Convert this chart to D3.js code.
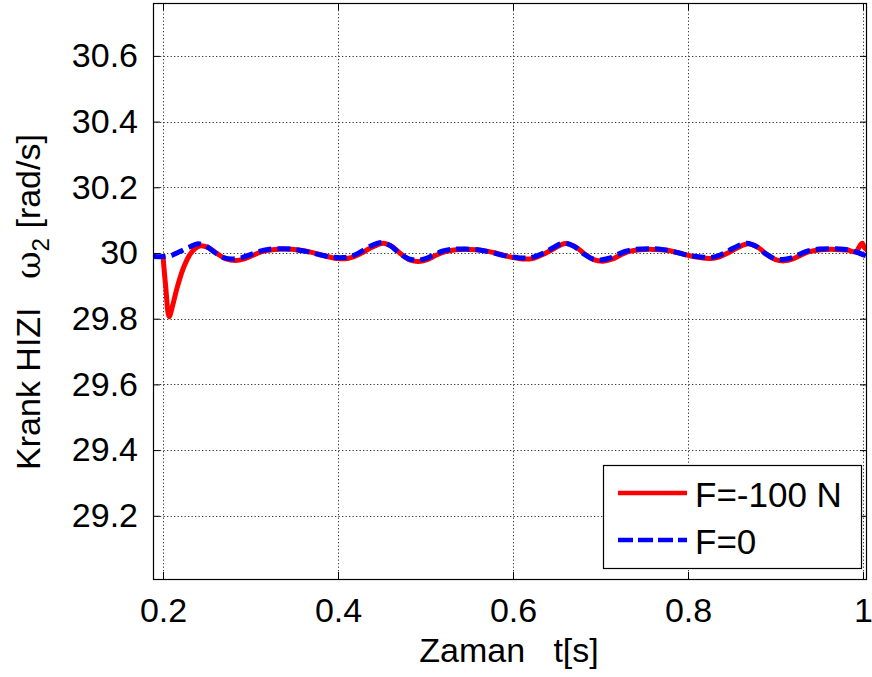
<!DOCTYPE html>
<html>
<head>
<meta charset="utf-8">
<script src="https://cdn.jsdelivr.net/npm/d3@7"></script>
<style>
  html, body { margin: 0; padding: 0; background: #fff; }
  svg { display: block; font-family: "Liberation Sans", Arial, sans-serif; }
</style>
</head>
<body>
<svg id="chart" width="872" height="677"></svg>
<script>
// Crank angular velocity, force applied (F=-100 N) vs. no force (F=0)
const timeF100 = [0.200,0.203,0.207,0.211,0.216,0.223,0.230,0.236,0.243,0.252,0.262,0.272,0.283,0.293,0.303,0.313,0.325,0.340,0.355,0.370,0.385,0.400,0.412,0.425,0.437,0.452,0.462,0.472,0.483,0.492,0.502,0.512,0.523,0.535,0.550,0.565,0.580,0.595,0.610,0.622,0.637,0.647,0.660,0.672,0.682,0.692,0.703,0.713,0.723,0.733,0.745,0.760,0.775,0.790,0.805,0.820,0.832,0.845,0.856,0.869,0.880,0.890,0.900,0.910,0.920,0.930,0.940,0.952,0.967,0.982,0.992,0.996,0.999,1.002,1.005];
const omegaF100 = [29.990,29.900,29.806,29.840,29.893,29.952,29.992,30.012,30.022,30.016,29.998,29.982,29.977,29.982,29.993,30.004,30.010,30.012,30.009,30.002,29.991,29.983,29.984,29.997,30.015,30.030,30.019,29.997,29.978,29.974,29.980,29.993,30.004,30.010,30.011,30.008,30.000,29.989,29.982,29.983,29.999,30.014,30.029,30.018,29.997,29.980,29.975,29.981,29.994,30.005,30.010,30.011,30.009,30.000,29.990,29.984,29.985,29.999,30.015,30.028,30.017,29.996,29.980,29.976,29.982,29.995,30.005,30.010,30.011,30.009,30.004,30.020,30.030,30.015,30.008];

const timeF0 = [0.188,0.200,0.210,0.220,0.230,0.240,0.250,0.260,0.270,0.280,0.290,0.300,0.310,0.320,0.335,0.350,0.365,0.380,0.395,0.405,0.415,0.425,0.435,0.450,0.460,0.470,0.480,0.490,0.500,0.510,0.520,0.530,0.545,0.560,0.575,0.590,0.605,0.620,0.635,0.645,0.658,0.670,0.680,0.690,0.700,0.710,0.720,0.730,0.740,0.755,0.770,0.785,0.800,0.815,0.828,0.840,0.852,0.867,0.878,0.888,0.898,0.908,0.918,0.928,0.938,0.950,0.965,0.980,0.992,1.005];
const omegaF0 = [29.989,29.989,29.993,30.005,30.018,30.028,30.020,30.000,29.985,29.982,29.986,29.995,30.005,30.011,30.013,30.011,30.004,29.994,29.987,29.986,29.990,30.002,30.018,30.032,30.022,30.000,29.983,29.978,29.983,29.995,30.006,30.011,30.012,30.010,30.002,29.992,29.986,29.986,30.000,30.015,30.030,30.020,29.999,29.983,29.979,29.984,29.996,30.006,30.011,30.013,30.011,30.003,29.993,29.988,29.987,29.998,30.015,30.030,30.020,29.999,29.984,29.980,29.985,29.997,30.007,30.012,30.013,30.011,30.003,29.990];

const xTicks = [0.2, 0.4, 0.6, 0.8, 1.0];
const xTickLabels = ["0.2", "0.4", "0.6", "0.8", "1"];
const yTicks = [29.2, 29.4, 29.6, 29.8, 30.0, 30.2, 30.4, 30.6];
const yTickLabels = ["29.2", "29.4", "29.6", "29.8", "30", "30.2", "30.4", "30.6"];

const seriesNames = ["F=-100 N", "F=0"];
const seriesColors = ["#ff0000", "#0000ff"];

const xDomain = [0.18857, 1.00457];
const yDomain = [29.0076, 30.761];

const svg = d3.select("#chart");
const plot = { left: 153, right: 867, top: 3, bottom: 579 };

const x = d3.scaleLinear().domain(xDomain).range([plot.left, plot.right]);
const y = d3.scaleLinear().domain(yDomain).range([plot.bottom, plot.top]);

const fontSize = 34;

// dotted grid
const grid = svg.append("g").attr("stroke", "#3a3a3a").attr("stroke-width", 1)
  .attr("stroke-dasharray", "1.3,2.2");
xTicks.forEach(t => {
  grid.append("line").attr("x1", Math.round(x(t)) + 0.5).attr("x2", Math.round(x(t)) + 0.5)
    .attr("y1", plot.top).attr("y2", plot.bottom);
});
yTicks.forEach(t => {
  grid.append("line").attr("y1", Math.round(y(t)) + 0.5).attr("y2", Math.round(y(t)) + 0.5)
    .attr("x1", plot.left).attr("x2", plot.right);
});

// axes with inward ticks on all four sides
const tl = 7;
const xAxisB = d3.axisBottom(x).tickValues(xTicks).tickSize(-tl).tickPadding(tl + 12)
  .tickFormat((d, i) => xTickLabels[i]);
const xAxisT = d3.axisTop(x).tickValues(xTicks).tickSize(-tl).tickFormat("");
const yAxisL = d3.axisLeft(y).tickValues(yTicks).tickSize(-tl).tickPadding(tl + 8)
  .tickFormat((d, i) => yTickLabels[i]);
const yAxisR = d3.axisRight(y).tickValues(yTicks).tickSize(-tl).tickFormat("");

function styleAxis(g) {
  g.select(".domain").remove();
  g.selectAll(".tick line").attr("stroke", "#000").attr("stroke-width", 1);
  g.selectAll(".tick text").attr("fill", "#000").attr("font-size", fontSize)
    .attr("font-family", "Liberation Sans, Arial, sans-serif");
}
svg.append("g").attr("transform", `translate(0,${plot.bottom})`).call(xAxisB).call(styleAxis);
svg.append("g").attr("transform", `translate(0,${plot.top})`).call(xAxisT).call(styleAxis);
svg.append("g").attr("transform", `translate(${plot.left},0)`).call(yAxisL).call(styleAxis);
svg.append("g").attr("transform", `translate(${plot.right},0)`).call(yAxisR).call(styleAxis);

// data lines
svg.append("clipPath").attr("id", "plotclip").append("rect")
  .attr("x", plot.left).attr("y", plot.top)
  .attr("width", plot.right - plot.left).attr("height", plot.bottom - plot.top);

const line = d3.line().x(d => x(d[0])).y(d => y(d[1])).curve(d3.curveCatmullRom.alpha(0.5));
const lines = svg.append("g").attr("clip-path", "url(#plotclip)");

lines.append("path")
  .datum(timeF100.map((t, i) => [t, omegaF100[i]]))
  .attr("d", line).attr("fill", "none")
  .attr("stroke", seriesColors[0]).attr("stroke-width", 5)
  .attr("stroke-linejoin", "round").attr("stroke-linecap", "round");

lines.append("path")
  .datum(timeF0.map((t, i) => [t, omegaF0[i]]))
  .attr("d", line).attr("fill", "none")
  .attr("stroke", seriesColors[1]).attr("stroke-width", 5)
  .attr("stroke-dasharray", "13,6");

// axes box
svg.append("rect").attr("x", plot.left + 0.5).attr("y", plot.top + 0.5)
  .attr("width", plot.right - plot.left - 1).attr("height", plot.bottom - plot.top)
  .attr("fill", "none").attr("stroke", "#000").attr("stroke-width", 1.2);

// legend
const lg = svg.append("g");
lg.append("rect").attr("x", 603.5).attr("y", 465.5).attr("width", 258).attr("height", 103)
  .attr("fill", "#fff").attr("stroke", "#000").attr("stroke-width", 1.2);
const legendRows = [493, 540];
seriesNames.forEach((name, i) => {
  const ly = legendRows[i];
  lg.append("line").attr("x1", 618).attr("x2", 687).attr("y1", ly).attr("y2", ly)
    .attr("stroke", seriesColors[i]).attr("stroke-width", 4.5)
    .attr("stroke-dasharray", i === 1 ? "15,5" : null);
  lg.append("text").attr("x", 695).attr("y", ly + 14).attr("font-size", fontSize + 1)
    .attr("fill", "#000").text(name);
});

// axis labels
svg.append("text").attr("x", 509).attr("y", 662).attr("text-anchor", "middle")
  .attr("font-size", fontSize).attr("fill", "#000")
  .style("white-space", "pre")
  .text("Zaman   t[s]");

const yl = svg.append("text").attr("transform", "translate(40,302) rotate(-90)")
  .attr("text-anchor", "middle").attr("font-size", fontSize).attr("fill", "#000")
  .style("white-space", "pre");
yl.append("tspan").text("Krank HIZI   ");
yl.append("tspan").attr("font-family", "DejaVu Serif, serif").text("ω");
yl.append("tspan").attr("font-size", 24).attr("dy", 9).text("2");
yl.append("tspan").attr("dy", -9).text(" [rad/s]");
</script>
</body>
</html>
